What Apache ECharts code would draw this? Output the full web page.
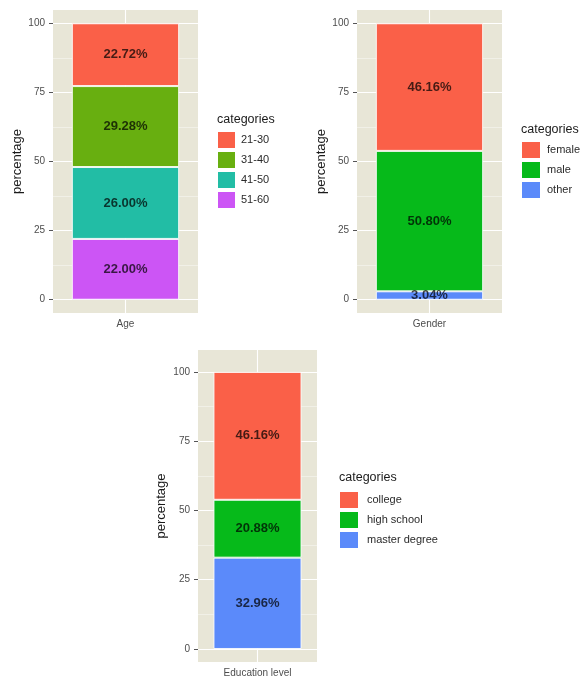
<!DOCTYPE html>
<html>
<head>
<meta charset="utf-8">
<title>Survey demographics</title>
<script src="https://cdn.jsdelivr.net/npm/echarts@6/dist/echarts.min.js"></script>
<style>
  html, body { margin: 0; padding: 0; background: #ffffff; }
  #chart { width: 581px; height: 678px; }
</style>
</head>
<body>
<div id="chart"></div>
<script>
// Share of respondents per group, in percent (each panel sums to 100)
const ageCategories = ['21-30', '31-40', '41-50', '51-60'];
const ageValues = [22.72, 29.28, 26.00, 22.00];

const genderCategories = ['female', 'male', 'other'];
const genderValues = [46.16, 50.80, 3.04];

const eduCategories = ['college', 'high school', 'master degree'];
const eduValues = [46.16, 20.88, 32.96];

const panelNames = ['Age', 'Gender', 'Education level'];
const yTicks = [0, 25, 50, 75, 100];
const yMinorTicks = [12.5, 37.5, 62.5, 87.5];

const ageColors = ['#FA6048', '#68AF10', '#22BDA5', '#CC55F5'];
const threeColors = ['#FA6048', '#06BA1A', '#5B8AFA'];

const FONT = '"Liberation Sans", Arial, Helvetica, sans-serif';
const PANEL_BG = '#E8E6D7';

// Panel placement (grid rect = full plotting panel incl. expansion)
const panels = [
  { left: 53, top: 10, width: 145, height: 303, yMin: -4.8, yMax: 104.8, nameGap: 28,
    legend: { left: 218, top: 132, itemWidth: 17, itemGap: 4, textGap: 6 }, title: { left: 217, top: 113 } },
  { left: 357, top: 10, width: 145, height: 303, yMin: -4.8, yMax: 104.8, nameGap: 28,
    legend: { left: 522, top: 142, itemWidth: 18, itemGap: 4, textGap: 7 }, title: { left: 521, top: 123 } },
  { left: 198, top: 350, width: 119, height: 312, yMin: -4.7, yMax: 107.9, nameGap: 30,
    legend: { left: 340, top: 492, itemWidth: 18, itemGap: 4, textGap: 9 }, title: { left: 339, top: 471 } }
];

const groups = [
  { cats: ageCategories, vals: ageValues, colors: ageColors },
  { cats: genderCategories, vals: genderValues, colors: threeColors },
  { cats: eduCategories, vals: eduValues, colors: threeColors }
];

const grid = [], xAxis = [], yAxis = [], series = [], legend = [], title = [];

panels.forEach(function (p, i) {
  grid.push({
    left: p.left, top: p.top, width: p.width, height: p.height,
    show: true, backgroundColor: PANEL_BG, borderWidth: 0
  });

  xAxis.push({
    type: 'category', gridIndex: i, data: [panelNames[i]], boundaryGap: true,
    axisLine: { show: false },
    axisTick: { show: true, alignWithLabel: true, length: 3, lineStyle: { color: '#555', width: 1 } },
    axisLabel: { color: '#4d4d4d', fontSize: 10, fontFamily: FONT, margin: 6 },
    splitLine: { show: false }
  });

  // major grid + labels
  yAxis.push({
    type: 'value', gridIndex: i, min: p.yMin, max: p.yMax,
    name: 'percentage', nameLocation: 'middle', nameGap: p.nameGap,
    nameTextStyle: { color: '#1a1a1a', fontSize: 13, fontFamily: FONT },
    axisLine: { show: false },
    axisTick: { show: true, length: 4, customValues: yTicks, lineStyle: { color: '#555' } },
    axisLabel: { color: '#4d4d4d', fontSize: 10, fontFamily: FONT, margin: 8, customValues: yTicks },
    splitLine: { show: true, lineStyle: { color: '#ffffff', width: 1.1 } }
  });
  // minor grid
  yAxis.push({
    type: 'value', gridIndex: i, min: p.yMin, max: p.yMax,
    axisLine: { show: false },
    axisTick: { show: false, customValues: yMinorTicks },
    axisLabel: { show: false, customValues: yMinorTicks },
    splitLine: { show: true, lineStyle: { color: '#ffffff', width: 0.5, opacity: 0.8 } }
  });

  const g = groups[i];
  // stacked from the bottom: last category sits at the base
  for (let k = g.cats.length - 1; k >= 0; k--) {
    const s = {
      name: g.cats[k], type: 'bar', stack: 'panel' + i,
      xAxisIndex: i, yAxisIndex: i * 2,
      data: [g.vals[k]], barWidth: '74%',
      itemStyle: { color: g.colors[k], borderColor: 'rgba(255,255,255,0.85)', borderWidth: 1 },
      label: {
        show: true, position: 'inside', fontSize: 13, fontWeight: 'bold', fontFamily: FONT,
        color: 'rgba(0,0,0,0.72)',
        formatter: function (d) { return d.value.toFixed(2) + '%'; }
      },
      emphasis: { disabled: true }
    };
    if (k === g.cats.length - 1) {
      // vertical major grid line through the category centre
      s.markLine = {
        silent: true, symbol: 'none', z: 1, animation: false,
        label: { show: false },
        lineStyle: { color: '#ffffff', width: 1.1, type: 'solid' },
        data: [{ xAxis: 0 }]
      };
    }
    series.push(s);
  }

  legend.push({
    orient: 'vertical', left: p.legend.left, top: p.legend.top, padding: 0,
    itemWidth: p.legend.itemWidth, itemHeight: 16, itemGap: p.legend.itemGap,
    icon: 'rect', selectedMode: false,
    itemStyle: { borderWidth: 0 },
    data: g.cats.slice(),
    textStyle: { color: '#2a2a2a', fontSize: 11, fontFamily: FONT, padding: [0, 0, 0, p.legend.textGap - 5] }
  });

  title.push({
    text: 'categories', left: p.title.left, top: p.title.top, padding: 0,
    textStyle: { color: '#1a1a1a', fontSize: 12.5, fontWeight: 'normal', fontFamily: FONT }
  });
});

const chart = echarts.init(document.getElementById('chart'), null, { renderer: 'canvas' });
chart.setOption({
  animation: false,
  backgroundColor: '#ffffff',
  title: title,
  legend: legend,
  grid: grid,
  xAxis: xAxis,
  yAxis: yAxis,
  series: series
});
</script>
</body>
</html>
